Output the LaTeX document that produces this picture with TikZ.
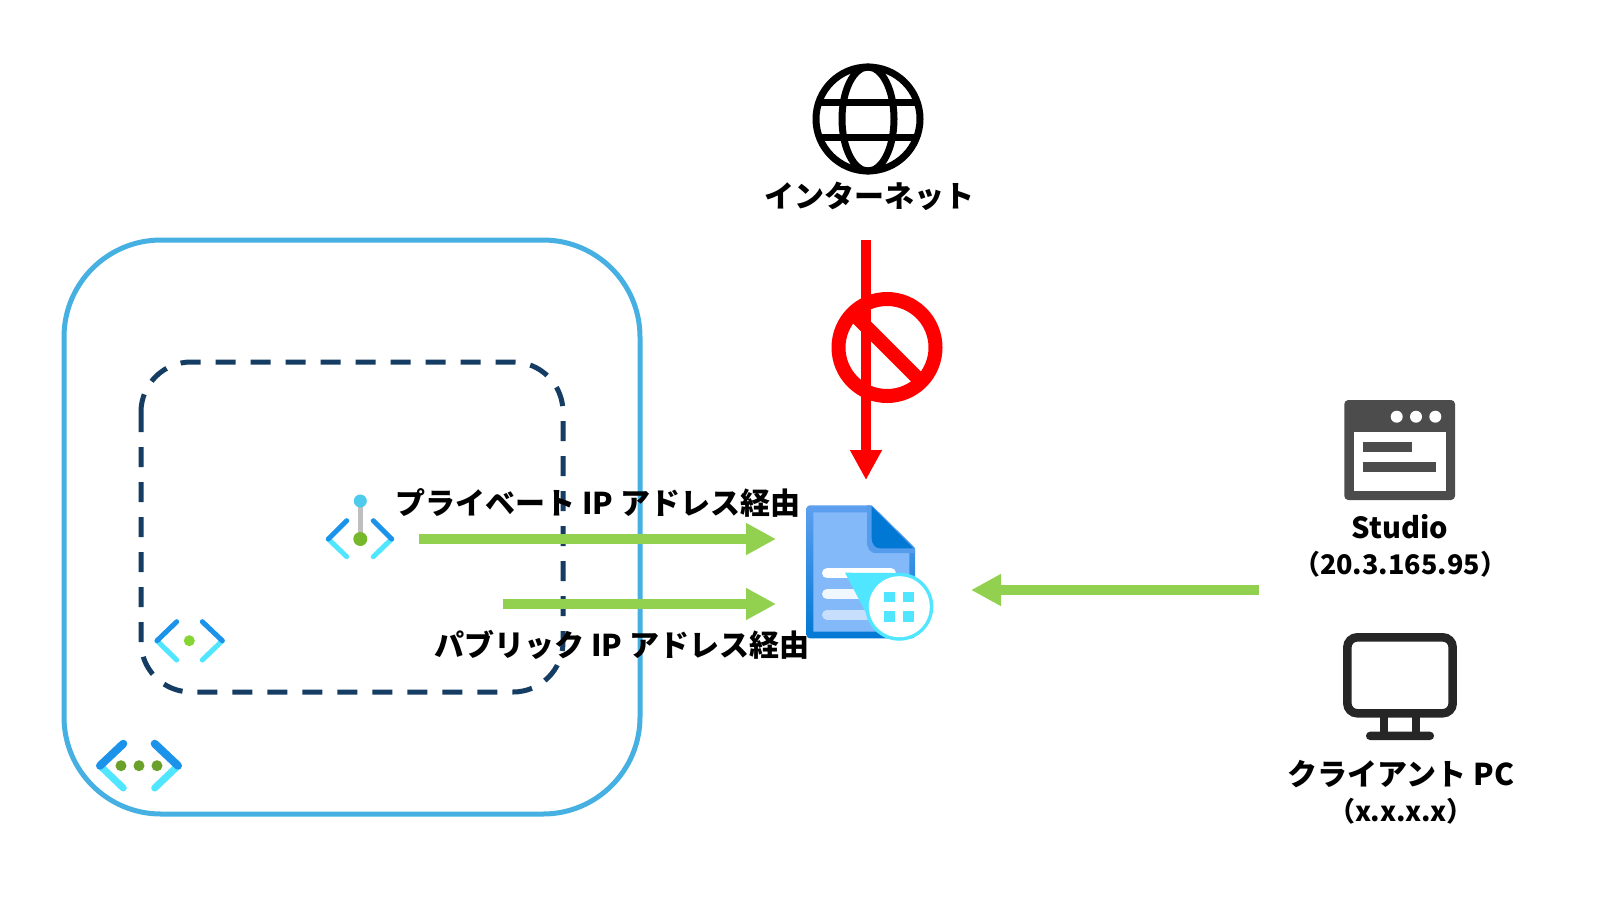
\documentclass[tikz,border=0pt]{standalone}
\usepackage{fontspec}
\setmainfont{Noto Sans CJK JP}
\usetikzlibrary{arrows.meta}
\definecolor{outerblue}{HTML}{45B0E1}
\definecolor{dashblue}{HTML}{153D64}
\definecolor{arrowgreen}{HTML}{92D050}
\definecolor{azdark}{HTML}{1B93EB}
\definecolor{azlight}{HTML}{50E6FF}
\definecolor{docfill}{HTML}{83B9F9}
\definecolor{docdark}{HTML}{0078D4}
\definecolor{doctop}{HTML}{5EA0EF}
\definecolor{peball}{HTML}{4DCBEC}
\definecolor{peground}{HTML}{76B82C}
\definecolor{subdot}{HTML}{86D633}
\definecolor{vnetdot}{HTML}{6AA12A}
\tikzset{
  lbl/.style={font=\fontsize{30}{36}\selectfont\bfseries,text=black,inner sep=0pt,align=center},
  lblsmall/.style={lbl,font=\fontsize{27}{32}\selectfont\bfseries},
  lblmid/.style={lbl,font=\fontsize{29}{34}\selectfont\bfseries},
  greenarrow/.style={draw=arrowgreen,line width=10pt,-{Triangle[length=30pt,width=30pt]}},
  redarrow/.style={draw=red,line width=10pt,-{Triangle[length=30pt,width=30pt]}},
  chevd/.style={draw=azdark,line cap=round,line join=miter},
  chevl/.style={draw=azlight,line cap=round},
}
\begin{document}
\begin{tikzpicture}[x=1pt,y=-1pt]
\useasboundingbox (0,0) rectangle (1600,900);
\fill[white] (0,0) rectangle (1600,900);
% containers
\draw[outerblue,line width=5pt,rounded corners=97pt] (64,240) rectangle (640,814);
\draw[dashblue,line width=5pt,dash pattern=on 20pt off 15pt,rounded corners=50pt] (141,362) rectangle (563,692);
% globe
\begin{scope}[draw=black,line width=7pt]
\draw (868,119) circle[radius=52];
\draw (868,119) ellipse[x radius=26,y radius=52];
\draw (818,102) -- (918,102);
\draw (818,137) -- (918,137);
\end{scope}
\node[lbl] (inet) at (869,196) {インターネット};
% red blocked arrow
\coordinate (rs) at (866,240);
\coordinate (re) at (866,480);
\draw[redarrow] (rs) -- (re);
\draw[red,line width=14pt] (887,347.5) circle[radius=48.5];
\draw[red,line width=14pt] (853,313.5) -- (921,381.5);
% studio
\fill[fill=black!70,rounded corners=4pt] (1344.3,400) rectangle (1455,500);
\fill[white] (1354,432.3) rectangle (1446,490.7);
\foreach \cx in {1396.7,1416,1435.3} \fill[white] (\cx,416.7) circle[radius=6];
\fill[black!70] (1363.3,442) rectangle (1412.3,452);
\fill[black!70] (1363.3,462) rectangle (1436,471.7);
\node[lblmid] (studio) at (1400,527) {Studio};
\node[lblsmall] (studioip) at (1400,564) {（20.3.165.95）};
% monitor
\draw[black!85,line width=8.5pt,rounded corners=10pt] (1347.3,637.3) rectangle (1452.7,713.3);
\fill[black!85] (1380,715) rectangle (1388,735);
\fill[black!85] (1411.7,715) rectangle (1420,735);
\fill[black!85,rounded corners=4pt] (1366,731.7) rectangle (1434,740);
\node[lbl] (pc) at (1401,774) {クライアント PC};
\node[lblsmall] (pcip) at (1401,811) {（x.x.x.x）};
% green arrows
\coordinate (a1s) at (419,539);
\coordinate (a1e) at (776,539);
\coordinate (a2s) at (503,604);
\coordinate (a2e) at (776,604);
\coordinate (a3s) at (1259,590);
\coordinate (a3e) at (971,590);
\draw[greenarrow] (a1s) -- (a1e);
\draw[greenarrow] (a2s) -- (a2e);
\draw[greenarrow] (a3s) -- (a3e);
\node[lbl] (priv) at (598,503) {プライベート IP アドレス経由};
\node[lbl] (pub) at (622,645) {パブリック IP アドレス経由};
% private endpoint icon
\draw[black!25,line width=4.5pt] (360.3,501) -- (360.3,539);
\fill[peball] (360.3,501) circle[radius=6.5];
\fill[peground] (360.3,539) circle[radius=7];
\draw[chevl,line width=5pt] (328.3,539) -- (346.7,556.7);
\draw[chevl,line width=5pt] (391.7,539) -- (373.3,556.7);
\draw[chevd,line width=5pt] (346.7,520.7) -- (328.3,539);
\draw[chevd,line width=5pt] (373.3,520.7) -- (391.7,539);
% subnet icon
\fill[subdot] (189.3,640.7) circle[radius=5.5];
\draw[chevl,line width=5pt] (157,640.7) -- (176.7,660);
\draw[chevl,line width=5pt] (222.3,640.7) -- (202.3,660);
\draw[chevd,line width=5pt] (176.7,621.7) -- (157,640.7);
\draw[chevd,line width=5pt] (202.3,621.7) -- (222.3,640.7);
% vnet icon
\foreach \cx in {121,139,157} \fill[vnetdot] (\cx,765.7) circle[radius=5.5];
\draw[chevl,line width=7pt] (100,765.7) -- (123.3,788);
\draw[chevl,line width=7pt] (178,765.7) -- (154.7,788);
\draw[chevd,line width=8pt] (123.3,743.7) -- (100,765.7);
\draw[chevd,line width=8pt] (154.7,743.7) -- (178,765.7);
% document icon
\shade[top color=doctop,bottom color=docdark,rounded corners=3pt] (806.7,505.3) -- (871.7,505.3) -- (915,548) -- (915,638.3) -- (806.7,638.3) -- cycle;
\fill[docfill] (813.3,512.3) -- (867,512.3) -- (867,540) .. controls (867,549) and (870,553) .. (877,553) -- (909.3,553) -- (909.3,631.7) -- (813.3,631.7) -- cycle;
\fill[doctop!90!docdark] (867,505.3) -- (871.7,505.3) -- (915,548) -- (915,553) -- (877,553) .. controls (870,553) and (867,549) .. (867,540) -- cycle;
\fill[docdark] (871.7,506.7) -- (913.3,548.3) -- (880,548.3) .. controls (875,548.3) and (871.7,544) .. (871.7,538) -- cycle;
\draw[white,line width=10pt,line cap=round] (827,573.3) -- (891,573.3);
\draw[white!89!docfill,line width=10pt,line cap=round] (827,594) -- (891,594);
\draw[white!55!docfill,line width=10pt,line cap=round] (827,614.7) -- (891,614.7);
\fill[azlight] (845,572.7) -- (900,573) -- (899.3,640.7) -- (875,630) -- cycle;
\fill[azlight] (899.3,606.7) circle[radius=34];
\fill[white] (899.3,606.7) circle[radius=30.5];
\fill[azlight] (884,591.7) rectangle (895,602.3);
\fill[azlight] (903.3,591.7) rectangle (914.3,602.3);
\fill[azlight] (884,611) rectangle (895,621.7);
\fill[azlight] (903.3,611) rectangle (914.3,621.7);
\end{tikzpicture}
\end{document}
